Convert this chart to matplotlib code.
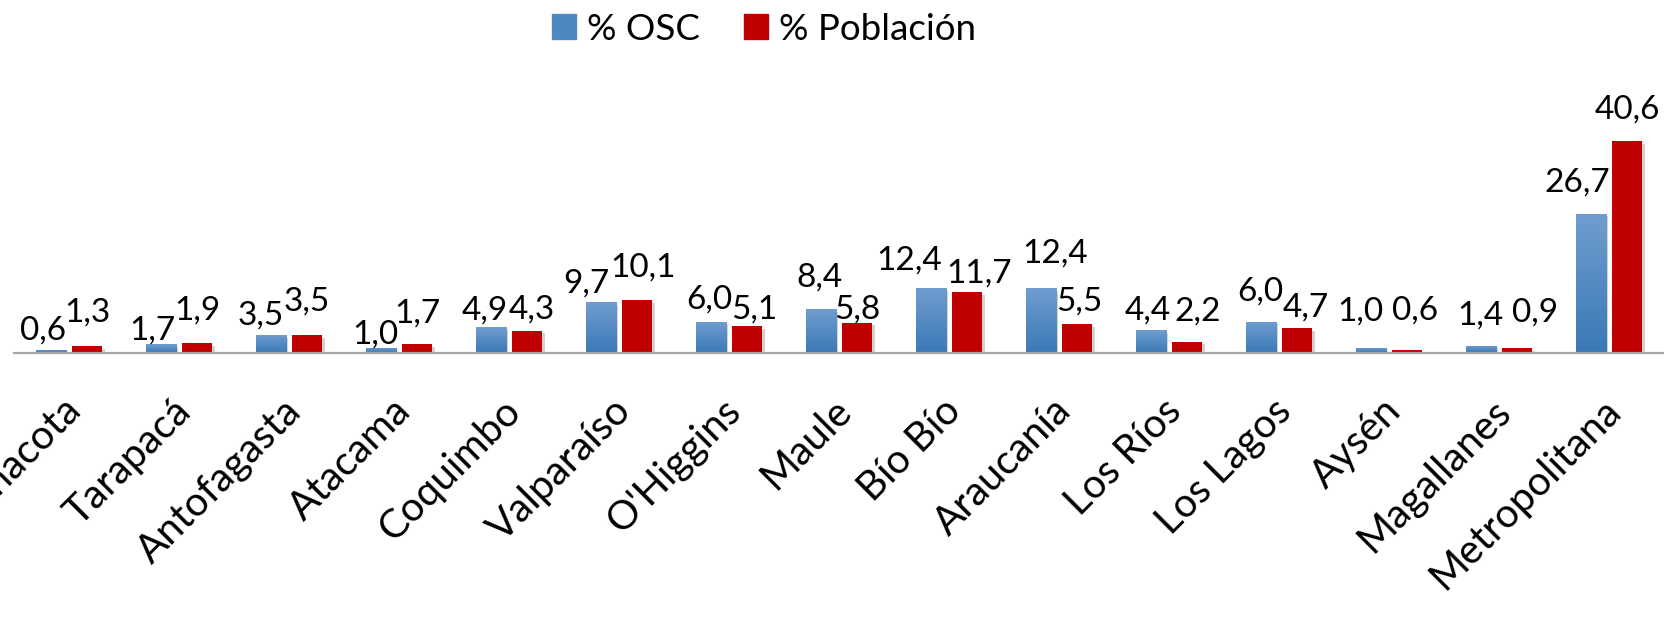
import numpy as np
import matplotlib
matplotlib.use('Agg')
import matplotlib.pyplot as plt
import matplotlib.patheffects as pe
from matplotlib.patches import Rectangle
from matplotlib.transforms import offset_copy

# ==========================================
# DATA
# ==========================================
regiones = ["Arica y Parinacota", "Tarapacá", "Antofagasta", "Atacama",
            "Coquimbo", "Valparaíso", "O'Higgins", "Maule", "Bío Bío",
            "Araucanía", "Los Ríos", "Los Lagos", "Aysén", "Magallanes",
            "Metropolitana"]
osc = [0.6, 1.7, 3.5, 1.0, 4.9, 9.7, 6.0, 8.4, 12.4, 12.4, 4.4, 6.0, 1.0, 1.4, 26.7]
poblacion = [1.3, 1.9, 3.5, 1.7, 4.3, 10.1, 5.1, 5.8, 11.7, 5.5, 2.2, 4.7, 0.6, 0.9, 40.6]

# label nudges (pixels) as placed in the original
osc_dx = [-7, -8, -10, -5, -6, -14, -1, -1, -21, 15, -3, 0, -10, 0, -13]
osc_dy = [10, 5, 10, 4, 7.5, 10, 13, 22.5, 19, 26, 10, 21, 27, 21, 22]
pob_dx = [0, 0, -1, 0, 4.5, 6, 6.6, 0, 12, 2, 10, 8, 7.5, 18, 0]
pob_dy = [24.5, 23.5, 24, 22, 12, 23.5, 7.5, 4, 9, 14, 21, 12, 30, 27, 22]

FONT = 'Lato'
plt.rcParams['font.family'] = [FONT, 'DejaVu Sans']

BLUE_TOP = np.array([112, 157, 207]) / 255
BLUE_BOT = np.array([58, 121, 183]) / 255
RED = '#C00000'

fig = plt.figure(figsize=(16.64, 6.27), dpi=100)
ax = fig.add_axes([14 / 1664, (627 - 353) / 627, 1650 / 1664, 235 / 627])

x = np.arange(len(regiones))
w = 0.273
off = 0.168

shadow = [pe.SimplePatchShadow(offset=(2, -2), shadow_rgbFace='#7f7f7f', alpha=0.35), pe.Normal()]

bars_osc = ax.bar(x - off, osc, w, color=BLUE_BOT, zorder=2)
bars_pob = ax.bar(x + off, poblacion, w, color=RED, zorder=2)
for b in list(bars_osc) + list(bars_pob):
    b.set_path_effects(shadow)

# gradient on the blue bars
grad = np.linspace(0, 1, 64)[:, None, None]
img = BLUE_TOP * (1 - grad) + BLUE_BOT * grad
for b in bars_osc:
    x0, y0 = b.get_x(), b.get_y()
    im = ax.imshow(img, extent=[x0, x0 + b.get_width(), y0, y0 + b.get_height()],
                   aspect='auto', origin='upper', zorder=3, interpolation='bilinear')
    im.set_clip_path(b)

ax.set_xlim(-0.5, len(regiones) - 0.5)
ax.set_ylim(0, 45)
for s in ['top', 'right', 'left']:
    ax.spines[s].set_visible(False)
ax.spines['bottom'].set_color('#a6a6a6')
ax.spines['bottom'].set_linewidth(1.6)
ax.spines['bottom'].set_zorder(5)
ax.set_yticks([])
ax.set_xticks([])

# value labels
for i in range(len(regiones)):
    ax.annotate(f"{osc[i]:.1f}".replace('.', ','), (x[i] - off, osc[i]),
                xytext=(osc_dx[i], osc_dy[i]), textcoords='offset pixels',
                ha='center', va='baseline', fontsize=24, color='black', zorder=6)
    ax.annotate(f"{poblacion[i]:.1f}".replace('.', ','), (x[i] + off, poblacion[i]),
                xytext=(pob_dx[i], pob_dy[i]), textcoords='offset pixels',
                ha='center', va='baseline', fontsize=24, color='black', zorder=6)

# category labels, rotated 45
tr = offset_copy(ax.get_xaxis_transform(), fig=fig, x=6, y=-52, units='dots')
for i, r in enumerate(regiones):
    ax.text(x[i], 0, r, transform=tr, rotation=45, rotation_mode='anchor',
            ha='right', va='center', fontsize=29, color='black', clip_on=False)

# legend
handles = [Rectangle((0, 0), 1, 1, color='#4f87c1'), Rectangle((0, 0), 1, 1, color=RED)]
fig.legend(handles, ['% OSC', '% Población'], loc='center',
           bbox_to_anchor=(764 / 1664, 1 - 29 / 627), ncol=2, frameon=False,
           fontsize=26.5, handlelength=0.65, handleheight=0.65,
           handletextpad=0.3, columnspacing=1.2, borderaxespad=0)

fig.savefig('out.png', dpi=100)
